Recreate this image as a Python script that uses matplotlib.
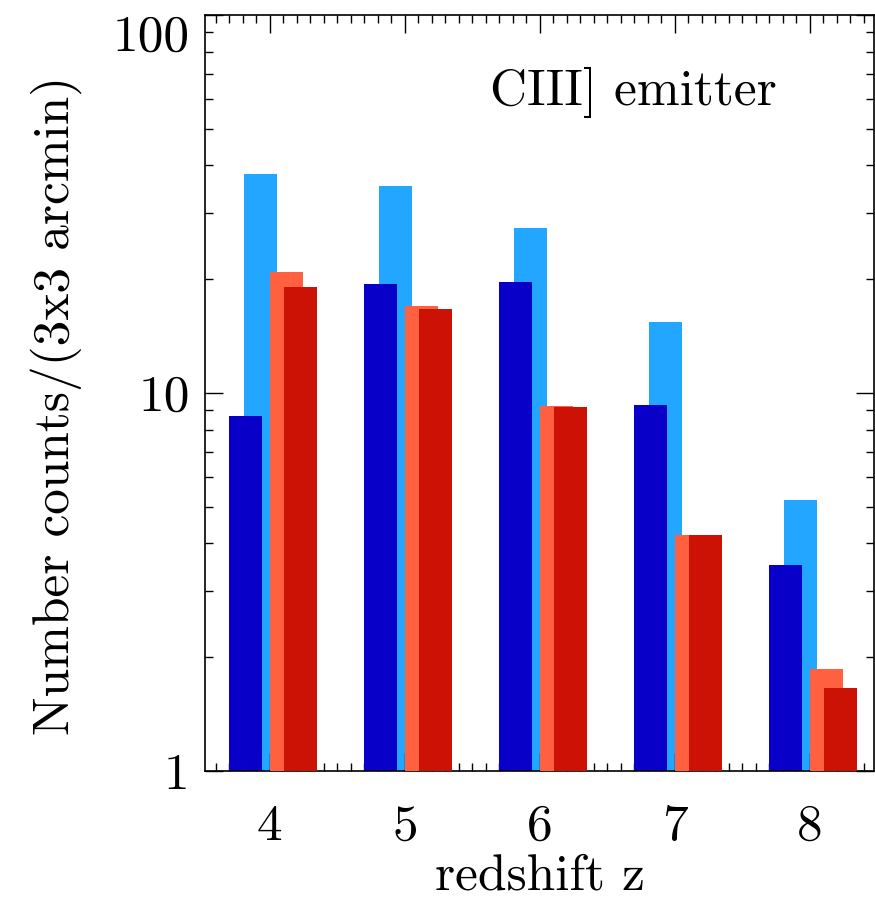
import numpy as np
import matplotlib
matplotlib.use("Agg")
from matplotlib import pyplot as plt
from matplotlib.ticker import FixedLocator, NullFormatter

plt.rcParams['font.family'] = ['cmr10', 'DejaVu Serif']
plt.rcParams['axes.unicode_minus'] = False

# redshift bins
redshift = [4, 5, 6, 7, 8]

# number counts per (3x3 arcmin)
dark_blue = [8.7, 19.4, 19.7, 9.3, 3.5]
light_blue = [37.9, 35.3, 27.3, 15.4, 5.2]
orange = [20.9, 17.0, 9.24, 4.2, 1.86]
dark_red = [19.1, 16.7, 9.18, 4.2, 1.66]

ytick_vals = [1, 10, 100]
ytick_labels = ['1', '10', '100']

z = np.array(redshift)
w = 0.245
fs = 37

fig = plt.figure(figsize=(8.75, 9.01), dpi=100)
ax = fig.add_axes([205/875, (901-771)/901, 669/875, 756/901])

# back to front
ax.bar(z - 0.07, light_blue, w, color='#22a6ff', zorder=1)
ax.bar(z - 0.18, dark_blue, w, color='#0800c8', zorder=2)
ax.bar(z + 0.125, orange, w, color='#ff6040', zorder=3)
ax.bar(z + 0.23, dark_red, w, color='#cc1205', zorder=4)

ax.set_yscale('log')
ax.set_ylim(1, 100)
ax.set_xlim(3.52, 8.475)

ax.yaxis.set_major_locator(FixedLocator(ytick_vals))
ax.set_yticklabels(ytick_labels)
ax.yaxis.set_minor_locator(FixedLocator([m * d for d in [1, 10] for m in range(2, 10)]))
ax.yaxis.set_minor_formatter(NullFormatter())
ax.xaxis.set_major_locator(FixedLocator(redshift))
ax.xaxis.set_minor_locator(FixedLocator(np.arange(3.6, 8.5, 0.1)))

ax.tick_params(which='both', direction='in', top=True, right=True,
               width=1.0, labelsize=fs)
ax.tick_params(axis='x', pad=24)
ax.tick_params(axis='y', pad=11)
ax.tick_params(which='major', length=13)
ax.tick_params(which='minor', length=6)
for s in ax.spines.values():
    s.set_linewidth(1.2)

# top label sits below its tick, like in the original
ax.get_yticklabels()[-1].set_va('top')

ax.set_xlabel('redshift z', fontsize=fs)
ax.xaxis.label.set_va('center')
ax.xaxis.set_label_coords(0.5, -0.14)
ax.set_ylabel('Number counts/(3x3 arcmin)', fontsize=fs)
ax.yaxis.label.set_va('center')
ax.yaxis.set_label_coords(-0.222, 0.484)
ax.text(0.426, 0.898, 'CIII] emitter', transform=ax.transAxes,
        fontsize=fs, va='center', ha='left')

fig.savefig('out.png', dpi=100)
